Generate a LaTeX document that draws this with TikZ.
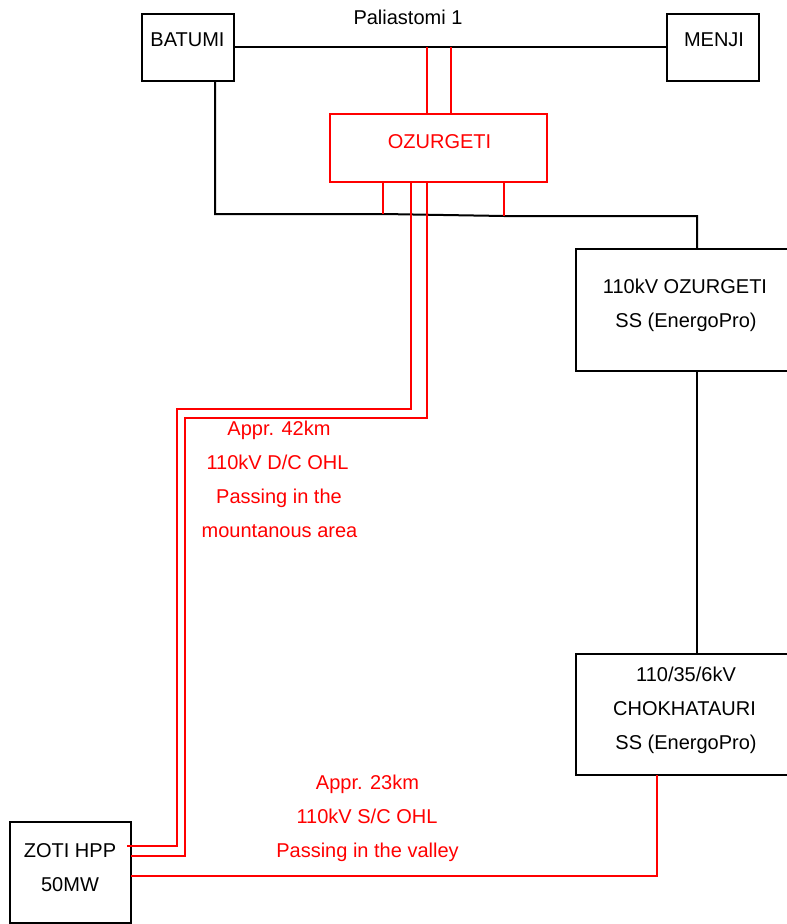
\documentclass[tikz,border=0pt]{standalone}
\usepackage{fontspec}
\setmainfont{Liberation Sans}
\definecolor{rd}{RGB}{255,0,0}
\tikzset{x=0.75pt,y=-0.75pt,
 box/.style={draw=black,line width=1.5pt,inner sep=0pt,outer sep=0pt,anchor=north west},
 rbox/.style={box,draw=rd},
 blk/.style={draw=black,line width=1.5pt},
 redl/.style={draw=rd,line width=1.5pt},
 lbl/.style={font=\fontsize{15}{17}\selectfont,inner sep=0pt,text=black,text height=11pt,text depth=3pt},
 rlbl/.style={lbl,text=rd}}
\begin{document}
\begin{tikzpicture}
\useasboundingbox (0,0) rectangle (786,924);
% boxes
\node[box,minimum width=92*0.75pt,minimum height=67*0.75pt] (batumi) at (142,14) {};
\node[box,minimum width=92*0.75pt,minimum height=67*0.75pt] (menji) at (667,14) {};
\node[rbox,minimum width=217*0.75pt,minimum height=68*0.75pt] (ozu) at (330,114) {};
\node[box,minimum width=212*0.75pt,minimum height=122*0.75pt] (ss) at (576,249) {};
\node[box,minimum width=212*0.75pt,minimum height=121*0.75pt] (cho) at (576,654) {};
\node[box,minimum width=121*0.75pt,minimum height=101*0.75pt] (zoti) at (10,822) {};
% named points on the lines
\coordinate (bl) at (215,81);
\coordinate (bc) at (215,214);
\coordinate (bm) at (383,214);
\coordinate (be) at (504,216);
\coordinate (bt) at (697,216);
\coordinate (sst) at (697,249);
\coordinate (ssb) at (697,371);
\coordinate (chot) at (697,654);
\coordinate (tap1) at (427,47);
\coordinate (tap2) at (451,47);
\coordinate (ot1) at (427,114);
\coordinate (ot2) at (451,114);
\coordinate (od1) at (383,182);
\coordinate (od2) at (411,182);
\coordinate (od3) at (427,182);
\coordinate (od4) at (504,182);
\coordinate (ze1) at (127,846);
\coordinate (ze2) at (131,856);
\coordinate (ze3) at (131,876);
\coordinate (chob) at (657,775);
% black lines
\draw[blk] (batumi.east |- tap1) -- (menji.west |- tap1);
\draw[blk] (bl) -- (bc) -- (bm) -- (be) -- (bt) -- (sst);
\draw[blk] (ssb) -- (chot);
% red lines
\draw[redl] (tap1) -- (ot1);
\draw[redl] (tap2) -- (ot2);
\draw[redl] (od1) -- (bm);
\draw[redl] (od4) -- (be);
\draw[redl] (od2) -- (411,409) -- (177,409) -- (177,846) -- (ze1);
\draw[redl] (od3) -- (427,418) -- (185,418) -- (185,856) -- (ze2);
\draw[redl] (ze3) -- (657,876) -- (chob);
% labels
\node[lbl] (t1) at (187.5,41) {BATUMI};
\node[lbl] (t2) at (714,41) {MENJI};
\node[lbl] (t3) at (408,19) {Paliastomi 1};
\node[rlbl] (t4) at (439.5,143) {OZURGETI};
\node[lbl] (t5) at (685,288) {110kV OZURGETI};
\node[lbl] (t6) at (686,322) {SS (EnergoPro)};
\node[lbl] (t7) at (686,676) {110/35/6kV};
\node[lbl] (t8) at (684.5,710) {CHOKHATAURI};
\node[lbl] (t9) at (686,744) {SS (EnergoPro)};
\node[lbl] (t10) at (70,852) {ZOTI HPP};
\node[lbl] (t11) at (70,886) {50MW};
\node[rlbl] (t12) at (279,430) {Appr. 42km};
\node[rlbl] (t13) at (277.5,464) {110kV D/C OHL};
\node[rlbl] (t14) at (279,498) {Passing in the};
\node[rlbl] (t15) at (279.5,532) {mountanous area};
\node[rlbl] (t16) at (367.5,784) {Appr. 23km};
\node[rlbl] (t17) at (367,818) {110kV S/C OHL};
\node[rlbl] (t18) at (367.5,852) {Passing in the valley};
\end{tikzpicture}
\end{document}
